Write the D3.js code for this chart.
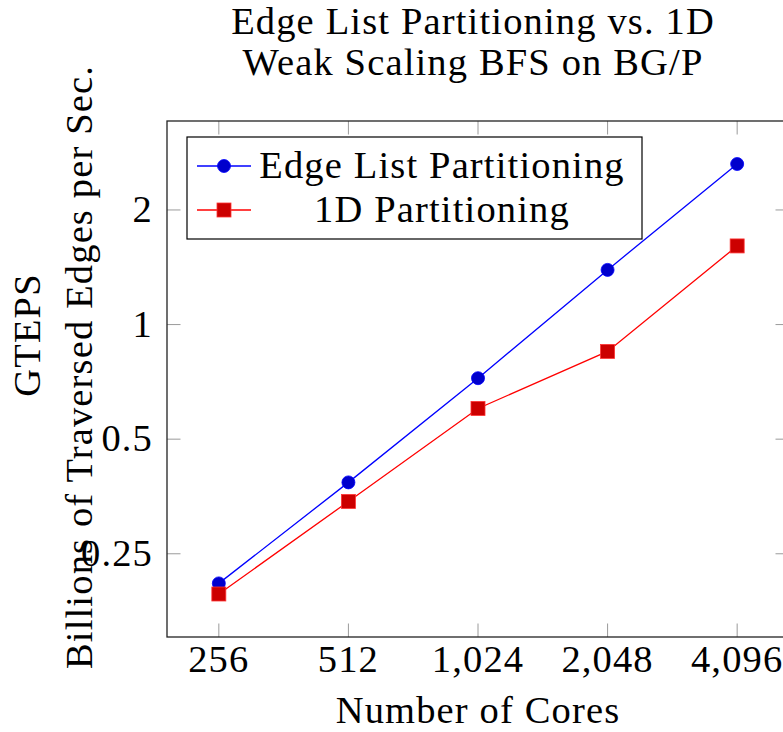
<!DOCTYPE html>
<html>
<head>
<meta charset="utf-8">
<script src="https://cdn.jsdelivr.net/npm/d3@7"></script>
<style>
  html, body { margin: 0; padding: 0; background: #fff; }
</style>
</head>
<body>
<svg id="chart" width="783" height="732"></svg>
<script>
// Core counts (x) and GTEPS measured for each partitioning scheme
const cores = [256, 512, 1024, 2048, 4096];
const edgeListGteps = [0.209, 0.385, 0.723, 1.392, 2.641];
const oneDGteps = [0.196, 0.343, 0.602, 0.850, 1.609];
const xTickLabels = ["256", "512", "1,024", "2,048", "4,096"];
const yTicks = [0.25, 0.5, 1, 2];
const yTickLabels = ["0.25", "0.5", "1", "2"];
const seriesNames = ["Edge List Partitioning", "1D Partitioning"];
const titleLines = ["Edge List Partitioning vs. 1D", "Weak Scaling BFS on BG/P"];

const svg = d3.select("#chart");
const plot = { left: 167, right: 789, top: 121, bottom: 637 };
const fontSize = 38.5;
const fontFamily = "'Liberation Serif', 'DejaVu Serif', 'Times New Roman', serif";

function label(sel) {
  return sel.attr("font-family", fontFamily)
    .attr("font-size", fontSize)
    .attr("letter-spacing", "0.03em")
    .attr("fill", "#000");
}

// log2 limits enlarged by 10% of the data range on each side
function enlarged(values) {
  const lo = Math.log2(d3.min(values)), hi = Math.log2(d3.max(values));
  const pad = (hi - lo) * 0.1;
  return [Math.pow(2, lo - pad), Math.pow(2, hi + pad)];
}

const x = d3.scaleLog().base(2).domain(enlarged(cores)).range([plot.left, plot.right]);
const y = d3.scaleLog().base(2).domain(enlarged(edgeListGteps.concat(oneDGteps))).range([plot.bottom, plot.top]);

// Title
svg.append("g").selectAll("text").data(titleLines).join("text")
  .attr("x", 473).attr("y", (d, i) => 34 + i * 41)
  .attr("text-anchor", "middle").call(label)
  .text(d => d);

// Tick marks (inward, on all four sides)
const tickLen = 13.5;
const tickColor = "#9a9a9a";
const ticks = svg.append("g").attr("stroke", tickColor).attr("stroke-width", 1);
cores.forEach(c => {
  ticks.append("line").attr("x1", x(c)).attr("x2", x(c)).attr("y1", plot.bottom).attr("y2", plot.bottom - tickLen);
  ticks.append("line").attr("x1", x(c)).attr("x2", x(c)).attr("y1", plot.top).attr("y2", plot.top + tickLen);
});
yTicks.forEach(v => {
  ticks.append("line").attr("x1", plot.left).attr("x2", plot.left + tickLen).attr("y1", y(v)).attr("y2", y(v));
  ticks.append("line").attr("x1", plot.right).attr("x2", plot.right - tickLen).attr("y1", y(v)).attr("y2", y(v));
});

// Frame
svg.append("rect")
  .attr("x", plot.left).attr("y", plot.top)
  .attr("width", plot.right - plot.left).attr("height", plot.bottom - plot.top)
  .attr("fill", "none").attr("stroke", "#222").attr("stroke-width", 1.3);

// Tick labels
svg.append("g").selectAll("text").data(cores).join("text")
  .attr("x", d => x(d)).attr("y", 672)
  .attr("text-anchor", "middle").call(label)
  .text((d, i) => xTickLabels[i]);
svg.append("g").selectAll("text").data(yTicks).join("text")
  .attr("x", 153).attr("y", d => y(d) + 12)
  .attr("text-anchor", "end").call(label)
  .text((d, i) => yTickLabels[i]);

// Axis titles
svg.append("text").attr("x", 478).attr("y", 723)
  .attr("text-anchor", "middle").call(label)
  .text("Number of Cores");
svg.append("text").attr("transform", "translate(40,335) rotate(-90)")
  .attr("text-anchor", "middle").call(label)
  .text("GTEPS");
svg.append("text").attr("transform", "translate(92,367) rotate(-90)")
  .attr("text-anchor", "middle").call(label)
  .text("Billions of Traversed Edges per Sec.");

// Series
const series = [
  { name: seriesNames[0], values: edgeListGteps, line: "#0000ff", fill: "#0000cc", stroke: "#0000ff", mark: "circle" },
  { name: seriesNames[1], values: oneDGteps, line: "#ff0000", fill: "#cc0000", stroke: "#ff3333", mark: "square" }
];
const lineGen = d3.line().x(d => x(d[0])).y(d => y(d[1]));

function drawMark(g, s, cx, cy) {
  if (s.mark === "circle") {
    g.append("circle").attr("cx", cx).attr("cy", cy).attr("r", 6.5)
      .attr("fill", s.fill).attr("stroke", s.stroke).attr("stroke-width", 0.8);
  } else {
    g.append("rect").attr("x", cx - 7).attr("y", cy - 7).attr("width", 14).attr("height", 14)
      .attr("fill", s.fill).attr("stroke", s.stroke).attr("stroke-width", 0.8);
  }
}

const dataLayer = svg.append("g");
series.forEach(s => {
  const pts = cores.map((c, i) => [c, s.values[i]]);
  dataLayer.append("path").attr("d", lineGen(pts))
    .attr("fill", "none").attr("stroke", s.line).attr("stroke-width", 1.3);
});
series.forEach(s => {
  cores.forEach((c, i) => drawMark(dataLayer, s, x(c), y(s.values[i])));
});

// Legend
const legend = svg.append("g");
legend.append("rect").attr("x", 187).attr("y", 137).attr("width", 455).attr("height", 102)
  .attr("fill", "#fff").attr("stroke", "#000").attr("stroke-width", 1.2);
series.forEach((s, i) => {
  const ly = 166 + i * 44;
  legend.append("line").attr("x1", 197).attr("x2", 251).attr("y1", ly).attr("y2", ly)
    .attr("stroke", s.line).attr("stroke-width", 1.3);
  drawMark(legend, s, 224, ly);
  legend.append("text").attr("x", 442).attr("y", ly + 12)
    .attr("text-anchor", "middle").call(label)
    .text(s.name);
});
</script>
</body>
</html>
